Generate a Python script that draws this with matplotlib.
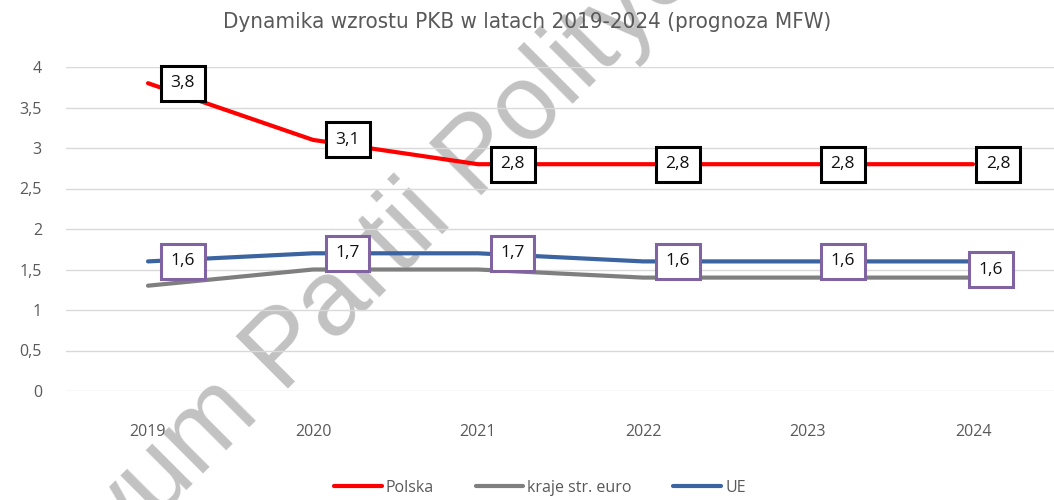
import matplotlib
matplotlib.use("Agg")
import matplotlib.pyplot as plt
import numpy as np

# data
years = ["2019", "2020", "2021", "2022", "2023", "2024"]
polska = [3.8, 3.1, 2.8, 2.8, 2.8, 2.8]
euro = [1.3, 1.5, 1.5, 1.4, 1.4, 1.4]
ue = [1.6, 1.7, 1.7, 1.6, 1.6, 1.6]
yticks = [0, 0.5, 1, 1.5, 2, 2.5, 3, 3.5, 4]

title = "Dynamika wzrostu PKB w latach 2019-2024 (prognoza MFW)"
watermark = "Archiwum Partii Politycznych"

txt_gray = "#595959"
red = "#FF0000"
gray = "#7F7F7F"
blue = "#3B64A0"
purple = "#8064A2"


def fmt(v):
    s = f"{v:g}"
    return s.replace(".", ",")


fig = plt.figure(figsize=(10.54, 5.0), dpi=100)
ax = fig.add_axes([65.5 / 1054, 0.218, 990 / 1054, 0.648])

x = np.arange(len(years))
ax.plot(x, euro, color=gray, lw=3, solid_capstyle="round", label="kraje str. euro", zorder=3)
ax.plot(x, ue, color=blue, lw=3, solid_capstyle="round", label="UE", zorder=4)
ax.plot(x, polska, color=red, lw=3, solid_capstyle="round", label="Polska", zorder=5)

# data labels (Excel-style boxes, right of the point; last one squeezed in)
def label_series(vals, edge):
    for i, v in enumerate(vals):
        dx, dy = (25, 0) if i < len(vals) - 1 else (18, 0)
        if edge == purple and i == len(vals) - 1:
            dx, dy = (13, -6)
        ax.annotate(fmt(v), (x[i], v), xytext=(dx, dy), textcoords="offset points",
                    ha="center", va="center", fontsize=12.5, family="Open Sans",
                    color="#111111", zorder=6,
                    bbox=dict(boxstyle="square,pad=0.55", fc="white", ec=edge, lw=2.2))


label_series(polska, "black")
label_series(ue, purple)

ax.set_xlim(-0.5, 5.5)
ax.set_ylim(0, 4)
ax.set_yticks(yticks)
ax.set_yticklabels([fmt(t) for t in yticks])
ax.set_xticks(x)
ax.set_xticklabels(years)
ax.tick_params(axis="y", length=0, pad=17, labelsize=11.5, labelcolor=txt_gray)
ax.tick_params(axis="x", length=0, pad=24, labelsize=11.5, labelcolor=txt_gray)
for lbl in ax.get_xticklabels() + ax.get_yticklabels():
    lbl.set_family("Open Sans")
ax.grid(axis="y", color="#D9D9D9", lw=1)
ax.set_axisbelow(True)
for s in ax.spines.values():
    s.set_visible(False)

# watermark sits behind grid and series
ax.text(0.373, 0.512, watermark, transform=fig.transFigure, rotation=45,
        rotation_mode="anchor", ha="center", va="center", fontsize=77,
        family="Liberation Sans", color="#C2C2C2", zorder=0.3, clip_on=False)

fig.text(0.5, 0.956, title, ha="center", va="center", fontsize=16,
         family="DejaVu Sans", fontstretch="condensed", color=txt_gray)

h, l = ax.get_legend_handles_labels()
order = [2, 0, 1]
fig.legend([h[i] for i in order], [l[i] for i in order], loc="center",
           bbox_to_anchor=(540 / 1054, 1 - 488 / 500), ncol=3, frameon=False,
           handlelength=3.0, handletextpad=0.25, columnspacing=2.6,
           prop={"family": "Open Sans", "size": 11.5}, labelcolor=txt_gray)

fig.savefig("out.png", dpi=100)
